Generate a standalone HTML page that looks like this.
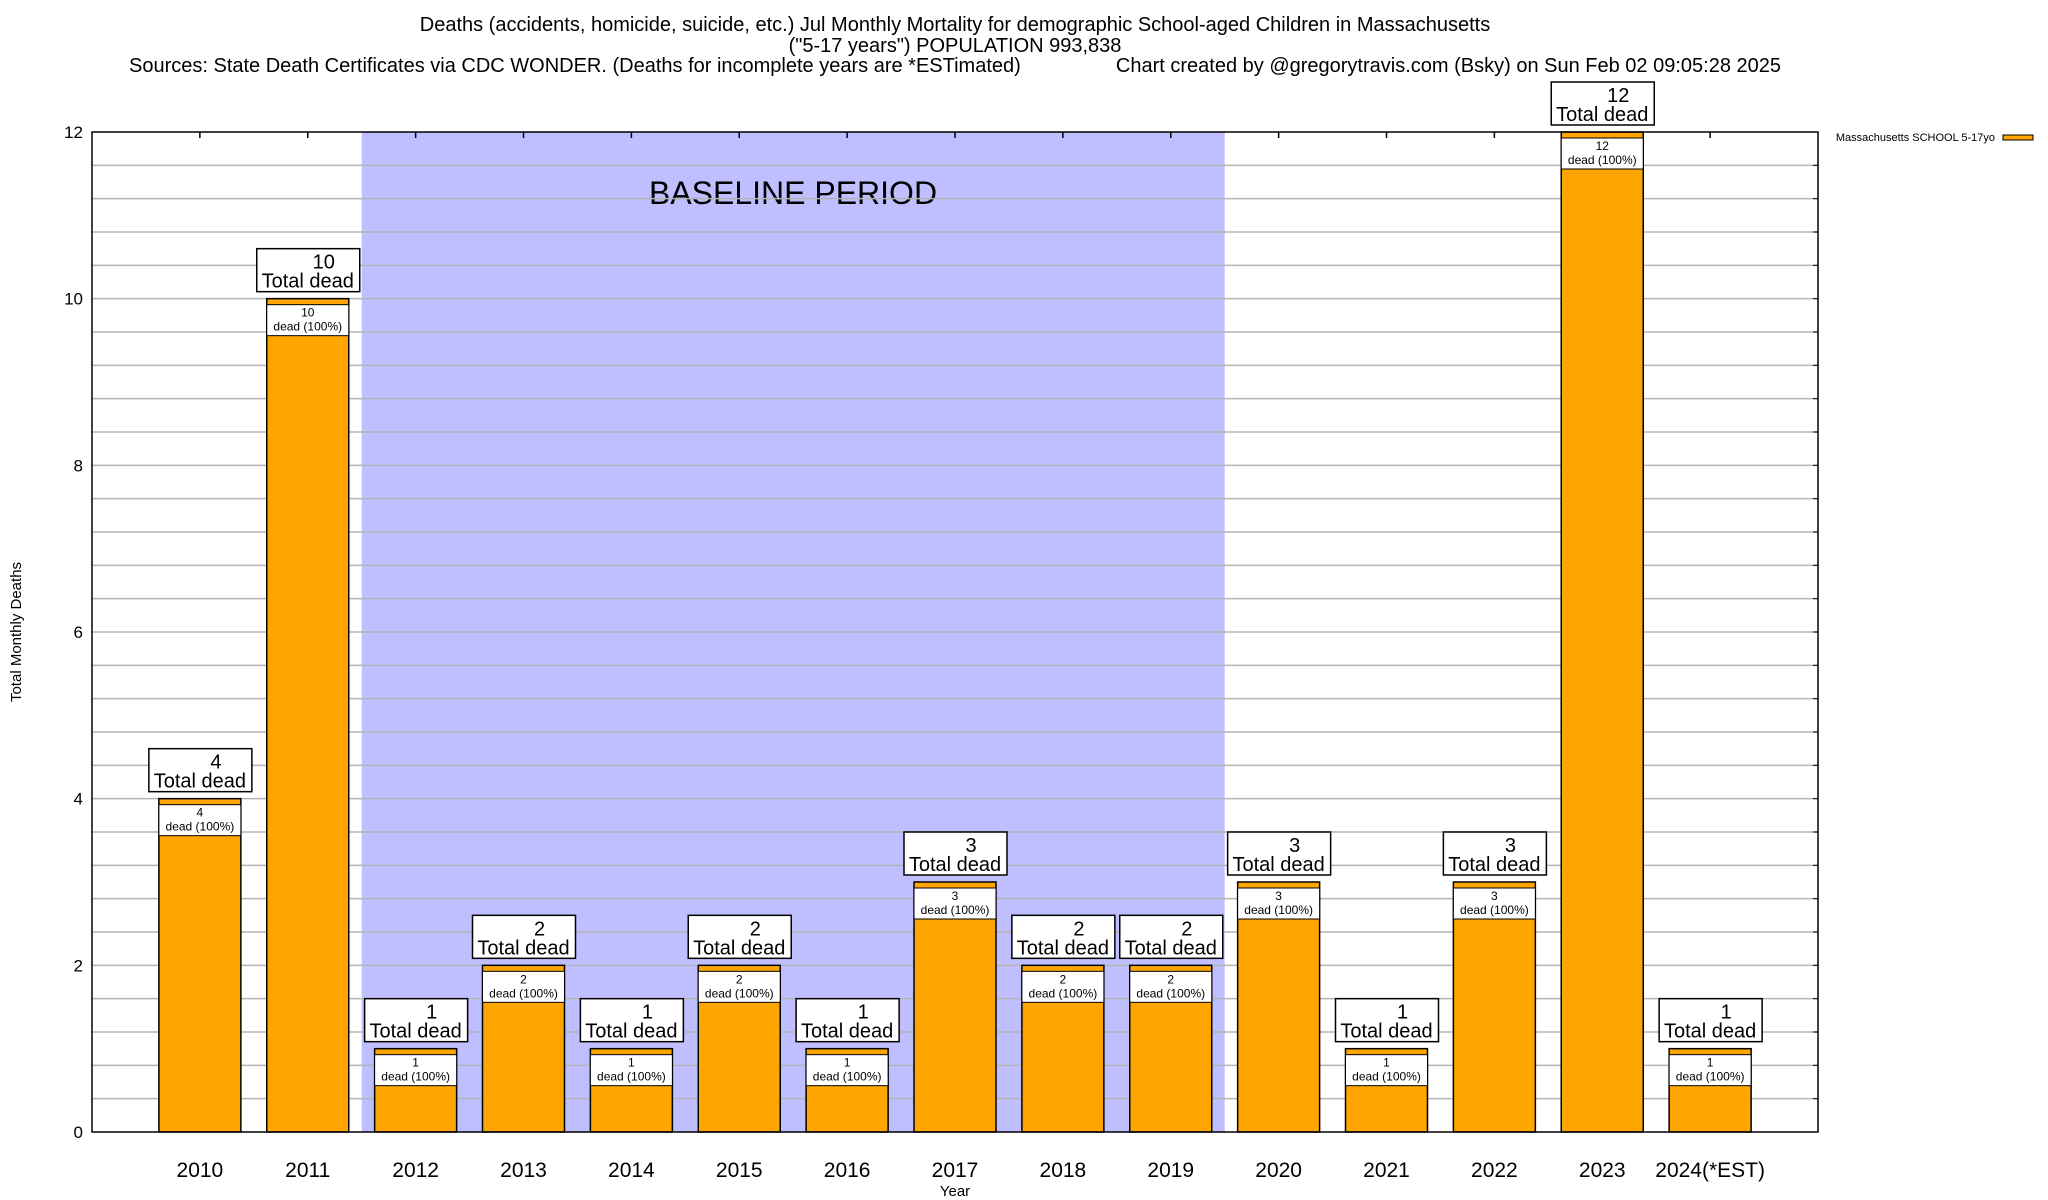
<!DOCTYPE html>
<html><head><meta charset="utf-8"><style>
body{margin:0;background:#fff;}
svg{display:block;font-family:"Liberation Sans",Arial,sans-serif;}
</style></head><body>
<svg id="chart" width="2048" height="1200" xmlns="http://www.w3.org/2000/svg">
<g font-size="20" fill="#000">
<text x="955" y="31" text-anchor="middle">Deaths (accidents, homicide, suicide, etc.) Jul Monthly Mortality for demographic School-aged Children in Massachusetts</text>
<text x="955" y="52" text-anchor="middle">("5-17 years") POPULATION 993,838</text>
<text x="129" y="72">Sources: State Death Certificates via CDC WONDER. (Deaths for incomplete years are *ESTimated)</text>
<text x="1781" y="72" text-anchor="end">Chart created by @gregorytravis.com (Bsky) on Sun Feb 02 09:05:28 2025</text>
</g>
<g id="plot"></g>
<text x="0" y="0" font-size="15" text-anchor="middle" transform="translate(21,632) rotate(-90)">Total Monthly Deaths</text>
<text x="955" y="1196" font-size="15" text-anchor="middle">Year</text>
<g>
<text x="1995" y="141" font-size="11" text-anchor="end">Massachusetts SCHOOL 5-17yo</text>
<rect x="2003" y="135" width="30" height="5" fill="#ffa500" stroke="#000" stroke-width="1"/>
</g>
</svg>
<script>
const categories = ["2010","2011","2012","2013","2014","2015","2016","2017","2018","2019","2020","2021","2022","2023","2024(*EST)"];
const deaths = [4,10,1,2,1,2,1,3,2,2,3,1,3,12,1];
const yTicks = [0,2,4,6,8,10,12];
const baselineRange = [1.5, 9.5];

const L=92,R=1818,T=132,B=1132,yMax=12;
const xs=i=>L+(i+1)*(R-L)/(categories.length+1);
const ys=v=>B-(v/yMax)*(B-T);
const step=(R-L)/(categories.length+1);
const bw=step*0.76;
const NS="http://www.w3.org/2000/svg";
const plot=document.getElementById('plot');
function mk(tag,attrs,parent,text){const e=document.createElementNS(NS,tag);for(const k in attrs)e.setAttribute(k,attrs[k]);if(text!==undefined)e.textContent=text;(parent||plot).appendChild(e);return e;}

const shade=mk('rect',{x:xs(baselineRange[0]),y:T,width:xs(baselineRange[1])-xs(baselineRange[0]),height:B-T,fill:'#bfbfff'});


const bl=mk('text',{x:793,y:204,'font-size':32,'text-anchor':'middle'},plot,'BASELINE PERIOD');



for(let v=0.4;v<yMax-0.01;v+=0.4){
  const g=mk('line',{x1:L,x2:R,y1:ys(v),y2:ys(v),stroke:'#b4b4b4','stroke-width':1.5});
  
  
}
yTicks.forEach(t=>{
  const tl=mk('text',{x:83,y:ys(t)+6,'font-size':17,'text-anchor':'end'},plot,String(t));
  
  
});
categories.forEach((c,i)=>{
  const x=xs(i);
  mk('line',{x1:x,x2:x,y1:T,y2:T+6,stroke:'#000','stroke-width':1.5});
  mk('line',{x1:x,x2:x,y1:B,y2:B-6,stroke:'#000','stroke-width':1.5});
  const xl=mk('text',{x:x,y:1177,'font-size':21,'text-anchor':'middle'},plot,c);
  
  
  const v=deaths[i], top=ys(v);
  const bar=mk('rect',{x:x-bw/2,y:top,width:bw,height:B-top,fill:'#ffa500',stroke:'#000','stroke-width':1.5});
  
  
  const ib=mk('rect',{x:x-bw/2,y:top+6,width:bw,height:31,fill:'#fff',stroke:'#000','stroke-width':1});
  
  
  mk('text',{x:x,y:top+18,'font-size':12,'text-anchor':'middle'},plot,String(v));
  mk('text',{x:x,y:top+32,'font-size':12,'text-anchor':'middle'},plot,'dead (100%)');
  const ob=mk('rect',{x:x-51,y:top-50,width:103,height:43,fill:'#fff',stroke:'#000','stroke-width':1.5});
  
  
  mk('text',{x:x+16,y:top-30,'font-size':20,'text-anchor':'middle'},plot,String(v));
  mk('text',{x:x,y:top-11,'font-size':20,'text-anchor':'middle'},plot,'Total dead');
});
const ax=mk('rect',{x:L,y:T,width:R-L,height:B-T,fill:'none',stroke:'#000','stroke-width':1.5});


for(let v=0;v<=yMax;v+=0.4){mk('line',{x1:R,x2:R-5,y1:ys(v),y2:ys(v),stroke:'#000'});}
</script>
</body></html>
